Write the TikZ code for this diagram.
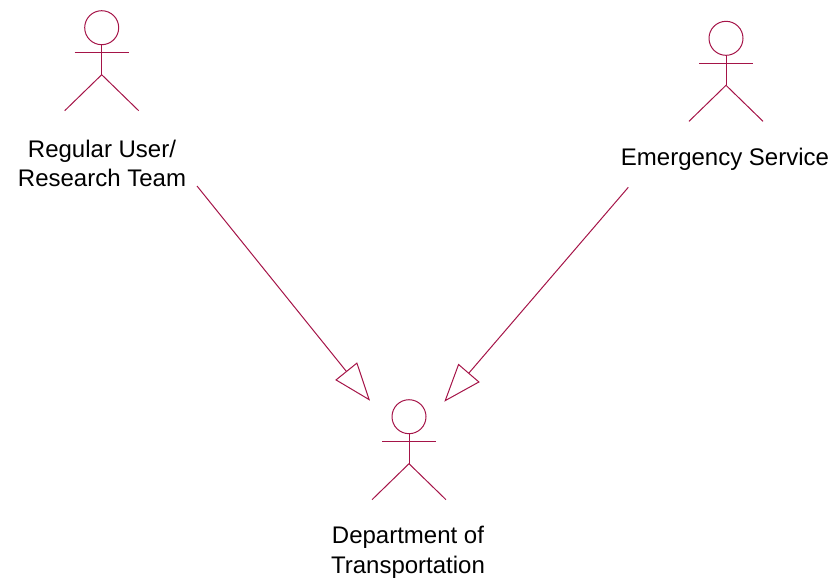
\documentclass[tikz,border=0pt]{standalone}
\usepackage{fontspec}
\setmainfont{Liberation Sans}
\usetikzlibrary{arrows.meta}
\definecolor{actorred}{RGB}{165,20,72}
\tikzset{
  actorline/.style={draw=actorred, line width=1pt},
  actor/.pic={
    \draw[actorline] (0,0) circle (17);
    \draw[actorline] (-27,25) -- (27,25);
    \draw[actorline] (0,17) -- (0,47);
    \draw[actorline] (-37,83) -- (0,47) -- (37,83);
  },
  lbl/.style={font=\fontsize{24}{29.7}\selectfont, align=center, inner sep=0pt, anchor=base},
  gen/.style={actorline, -{Triangle[open, length=38pt, width=28pt]}}
}
\begin{document}
\begin{tikzpicture}[x=1pt, y=-1pt]
\useasboundingbox (0,0) rectangle (835,582);
\pic (a1) at (101.7,27.7) {actor};
\pic (a2) at (409,416.7) {actor};
\pic (a3) at (726,38.3) {actor};
\node[lbl] (l1) at (102,186.7) {Regular User/\\Research Team};
\node[lbl] (l3) at (725,165) {Emergency Service};
\node[lbl] (l2) at (408,573.3) {Department of\\Transportation};
\coordinate (s1) at (197,186);
\coordinate (s3) at (628.3,187.3);
\coordinate (t1) at (370,400.7);
\coordinate (t3) at (444.3,401.7);
\draw[gen] (s1) -- (t1);
\draw[gen] (s3) -- (t3);
\end{tikzpicture}
\end{document}
